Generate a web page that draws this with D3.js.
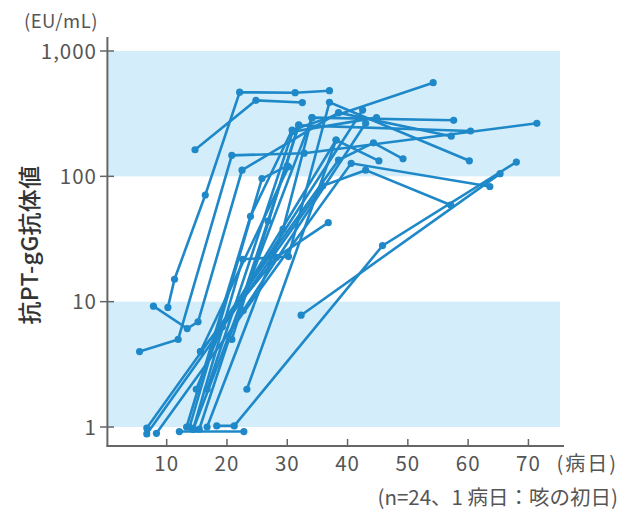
<!DOCTYPE html>
<html><head><meta charset="utf-8">
<script src="https://cdn.jsdelivr.net/npm/d3@7"></script>
<style>body{margin:0;background:#fff}svg{display:block}text{font-family:"Noto Sans CJK JP","Noto Sans",sans-serif}</style>
</head><body><svg id="c" width="620" height="511"></svg>
<script>
const xTicks = [10,20,30,40,50,60,70];
const yTicks = [1,10,100,1000];
const yTickLabels = ["1","10","100","1,000"];
const bands = [[100,1000],[1,10]];
const yTitle = "抗PT-gG抗体値";
const yUnit = "(EU/mL)";
const xUnit = "(病日)";
const note = "(n=24、1 病日：咳の初日)";
// patient series: [day, titer]
const p01 = [[5.5,4.0],[11.9,5.0],[20.8,147],[32.8,153],[71.4,265]];
const p02 = [[7.8,9.2],[13.4,6.1],[15.2,6.9],[22.5,112],[38.5,322],[57.2,209]];
const p03 = [[10.2,9.0],[11.3,15.1],[16.4,71],[22.1,469],[31.3,465],[37.0,482]];
const p04 = [[14.7,163],[24.8,404],[32.5,388]];
const p05 = [[6.7,0.88],[35.9,84],[43.0,112],[57.1,59]];
const p06 = [[6.7,0.98],[38.5,135],[44.3,185],[49.2,138]];
const p07 = [[8.3,0.89],[40.6,127],[63.6,83]];
const p08 = [[12.1,0.92],[22.8,0.92]];
const p09 = [[18.3,1.02],[21.2,1.02],[45.8,28],[68.0,130]];
const p10 = [[32.3,7.8],[65.3,105]];
const p11 = [[13.3,1.0],[23.9,48],[30.8,234],[54.2,559]];
const p12 = [[14.4,0.96],[22.6,21.8],[30.2,22.9],[37.0,390],[60.2,133]];
const p13 = [[15.4,0.96],[26.8,44],[31.9,255],[60.4,230]];
const p14 = [[16.7,1.0],[29.3,38],[34.1,294],[57.6,280]];
const p15 = [[14.9,2.0],[19.2,6.3],[42.5,338]];
const p16 = [[16.7,2.0],[30.9,227],[44.8,294]];
const p17 = [[23.3,2.0],[38.1,195],[45.2,133]];
const p18 = [[15.6,4.0],[28.2,22.6],[36.8,42.7]];
const p19 = [[22.7,8.5],[43.0,265]];
const p20 = [[13.8,1.0],[25.8,96],[30.0,121]];
const p21 = [[20.8,5.0],[31.9,257]];
const p22 = [[19.2,6.3],[38.1,195]];
const p23 = [[15.6,4.0],[30.2,119]];
const p24 = [[14.4,0.96],[34.1,294]];
const patients = [p01,p02,p03,p04,p05,p06,p07,p08,p09,p10,p11,p12,p13,p14,p15,p16,p17,p18,p19,p20,p21,p22,p23,p24];

const svg = d3.select("#c");
const x = d3.scaleLinear().domain([0,76]).range([106.4,564.6]);
const y = d3.scaleLog().domain([1,1000]).range([427,51]);
const xL = x(0)+1.5, xR = 560;
const blue = "#1e88c9", axisC = "#666", txt = "#555";

svg.append("g").selectAll("rect").data(bands).join("rect")
  .attr("x", xL).attr("width", xR-xL)
  .attr("y", d=>y(d[1])).attr("height", d=>y(d[0])-y(d[1]))
  .attr("fill","#d3eefa");

const line = d3.line().x(d=>x(d[0])).y(d=>y(d[1]));
const g = svg.append("g");
g.selectAll("path").data(patients).join("path")
  .attr("d", line).attr("fill","none").attr("stroke",blue).attr("stroke-width",2.6);
g.selectAll("g.pts").data(patients).join("g").attr("class","pts")
  .selectAll("circle").data(d=>d).join("circle")
  .attr("cx",d=>x(d[0])).attr("cy",d=>y(d[1])).attr("r",3.6).attr("fill",blue);

// axes
const yTop = 37, yBot = 446;
svg.append("line").attr("x1",x(0)+1).attr("x2",x(0)+1).attr("y1",yTop).attr("y2",yBot).attr("stroke",axisC).attr("stroke-width",2);
svg.append("line").attr("x1",x(0)).attr("x2",564).attr("y1",yBot).attr("y2",yBot).attr("stroke",axisC).attr("stroke-width",2);
svg.append("g").selectAll("line").data(yTicks).join("line")
  .attr("x1",100).attr("x2",114).attr("y1",d=>y(d)).attr("y2",d=>y(d)).attr("stroke",axisC).attr("stroke-width",1.5);
svg.append("g").selectAll("text").data(yTicks).join("text")
  .attr("x",97).attr("y",d=>y(d)+7.5).attr("text-anchor","end").attr("letter-spacing",1)
  .attr("font-size",20.5).attr("fill",txt).text((d,i)=>yTickLabels[i]);
svg.append("g").selectAll("line").data(xTicks).join("line")
  .attr("x1",d=>x(d)).attr("x2",d=>x(d)).attr("y1",439).attr("y2",yBot).attr("stroke",axisC).attr("stroke-width",1.5);
svg.append("g").selectAll("text").data(xTicks).join("text")
  .attr("x",d=>x(d)).attr("y",471).attr("text-anchor","middle").attr("letter-spacing",1)
  .attr("font-size",20.5).attr("fill",txt).text(d=>d);
svg.append("text").attr("x",98).attr("y",28).attr("text-anchor","end").attr("font-size",18.5).attr("letter-spacing",0.5).attr("fill",txt).text(yUnit);
svg.append("text").attr("x",618).attr("y",471).attr("text-anchor","end").attr("font-size",20).attr("letter-spacing",2).attr("fill",txt).text(xUnit);
svg.append("text").attr("x",618).attr("y",505).attr("text-anchor","end").attr("font-size",20.5).attr("fill",txt).text(note);
svg.append("text").attr("transform","translate(38,245) rotate(-90)").attr("text-anchor","middle")
  .attr("font-size",23).attr("letter-spacing",0.3).attr("font-weight",500).attr("fill","#333").text(yTitle);
</script></body></html>
